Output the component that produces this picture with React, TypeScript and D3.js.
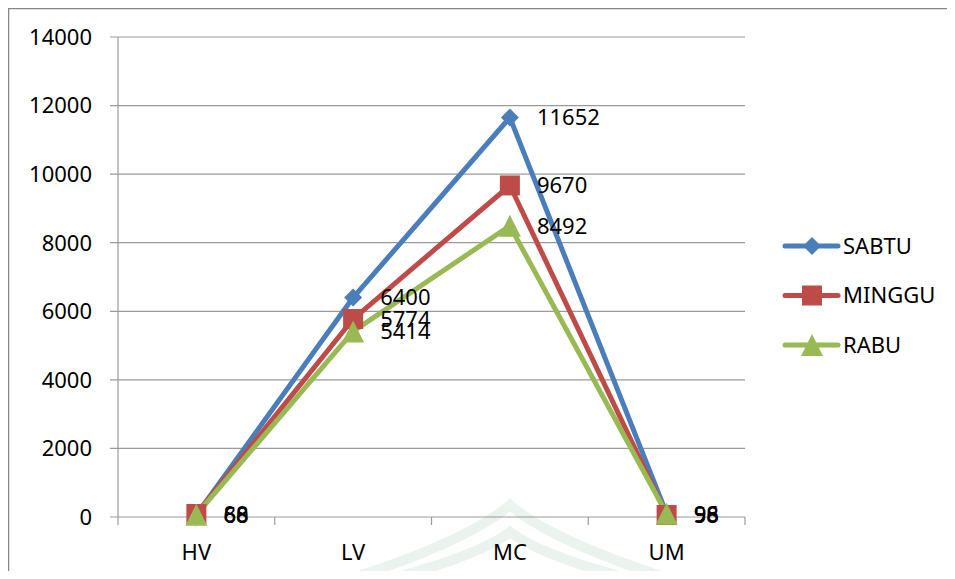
import React from "react";
import * as d3 from "d3";

const categories = ["HV", "LV", "MC", "UM"];
const seriesNames = ["SABTU", "MINGGU", "RABU"];
const sabtu = [60, 6400, 11652, 96];
const minggu = [88, 5774, 9670, 58];
const rabu = [68, 5414, 8492, 98];
const yTicks = [0, 2000, 4000, 6000, 8000, 10000, 12000, 14000];
const colors = ["#4A7EBB", "#BE4B48", "#98B954"];

const W = 955;
const H = 579;
const font = "'Noto Sans', 'Open Sans', sans-serif";
const fs = 22;

export default function App() {
  const left = 118, right = 745, top = 37, bottom = 517;
  const x = d3.scaleBand<string>().domain(categories).range([left, right]);
  const y = d3.scaleLinear().domain([0, 14000]).range([bottom, top]);
  const cx = (c: string) => (x(c) as number) + x.bandwidth() / 2;
  const all = [sabtu, minggu, rabu];
  const line = d3
    .line<[string, number]>()
    .x((d) => cx(d[0]))
    .y((d) => y(d[1]));

  const marker = (i: number, px: number, py: number, key: string) => {
    if (i === 0) {
      const s = 9;
      return (
        <path key={key} d={`M${px},${py - s}L${px + s},${py}L${px},${py + s}L${px - s},${py}Z`} fill={colors[0]} />
      );
    }
    if (i === 1) {
      const s = 10;
      return <rect key={key} x={px - s} y={py - s} width={2 * s} height={2 * s} fill={colors[1]} />;
    }
    const s = 11;
    return (
      <path key={key} d={`M${px},${py - s}L${px + s},${py + s}L${px - s},${py + s}Z`} fill={colors[2]} />
    );
  };

  const ticksX = d3.range(categories.length + 1).map((i) => left + i * x.step());

  return (
    <div style={{ margin: -8 }}>
      <svg width={W} height={H} style={{ display: "block", background: "#fff" }}>
        <rect x={8.5} y={8.5} width={W + 20} height={H + 20} fill="#fff" stroke="#868686" strokeWidth={1.5} />
        {/* faint watermark */}
        <g fill="none" stroke="#e6f1e9" strokeWidth={10} opacity={0.8}>
          <path d="M350,579 Q470,540 510,505 Q550,540 670,579" />
          <path d="M390,579 Q480,555 510,532 Q540,555 630,579" />
        </g>
        {/* grid */}
        {yTicks.map((t) => (
          <g key={t}>
            <line x1={left - 8} x2={right} y1={y(t)} y2={y(t)} stroke="#9a9a9a" strokeWidth={1.2} />
            <text x={92} y={y(t)} dy="0.36em" textAnchor="end" fontFamily={font} fontSize={fs} fill="#000">
              {t}
            </text>
          </g>
        ))}
        <line x1={left} x2={left} y1={top} y2={bottom} stroke="#9a9a9a" strokeWidth={1.2} />
        {ticksX.map((tx, i) => (
          <line key={i} x1={tx} x2={tx} y1={bottom} y2={bottom + 8} stroke="#9a9a9a" strokeWidth={1.2} />
        ))}
        {categories.map((c) => (
          <text key={c} x={cx(c)} y={552} dy="0.36em" textAnchor="middle" fontFamily={font} fontSize={fs} fill="#000">
            {c}
          </text>
        ))}
        {/* lines */}
        {all.map((vals, i) => (
          <path
            key={i}
            d={line(categories.map((c, j) => [c, vals[j]] as [string, number])) as string}
            fill="none"
            stroke={colors[i]}
            strokeWidth={5}
            strokeLinejoin="round"
          />
        ))}
        {all.map((vals, i) => categories.map((c, j) => marker(i, cx(c), y(vals[j]), `${i}-${j}`)))}
        {all.map((vals, i) =>
          categories.map((c, j) => (
            <text
              key={`l${i}-${j}`}
              x={cx(c) + 27}
              y={y(vals[j])}
              dy="0.36em"
              fontFamily={font}
              fontSize={fs}
              fill="#000"
            >
              {vals[j]}
            </text>
          ))
        )}
        {/* legend */}
        {seriesNames.map((n, i) => {
          const ly = 246 + i * 49.5;
          return (
            <g key={n}>
              <line x1={785} x2={838} y1={ly} y2={ly} stroke={colors[i]} strokeWidth={5} strokeLinecap="round" />
              {marker(i, 812, ly, `lg${i}`)}
              <text x={843} y={ly} dy="0.36em" fontFamily={font} fontSize={fs} fill="#000">
                {n}
              </text>
            </g>
          );
        })}
      </svg>
    </div>
  );
}
